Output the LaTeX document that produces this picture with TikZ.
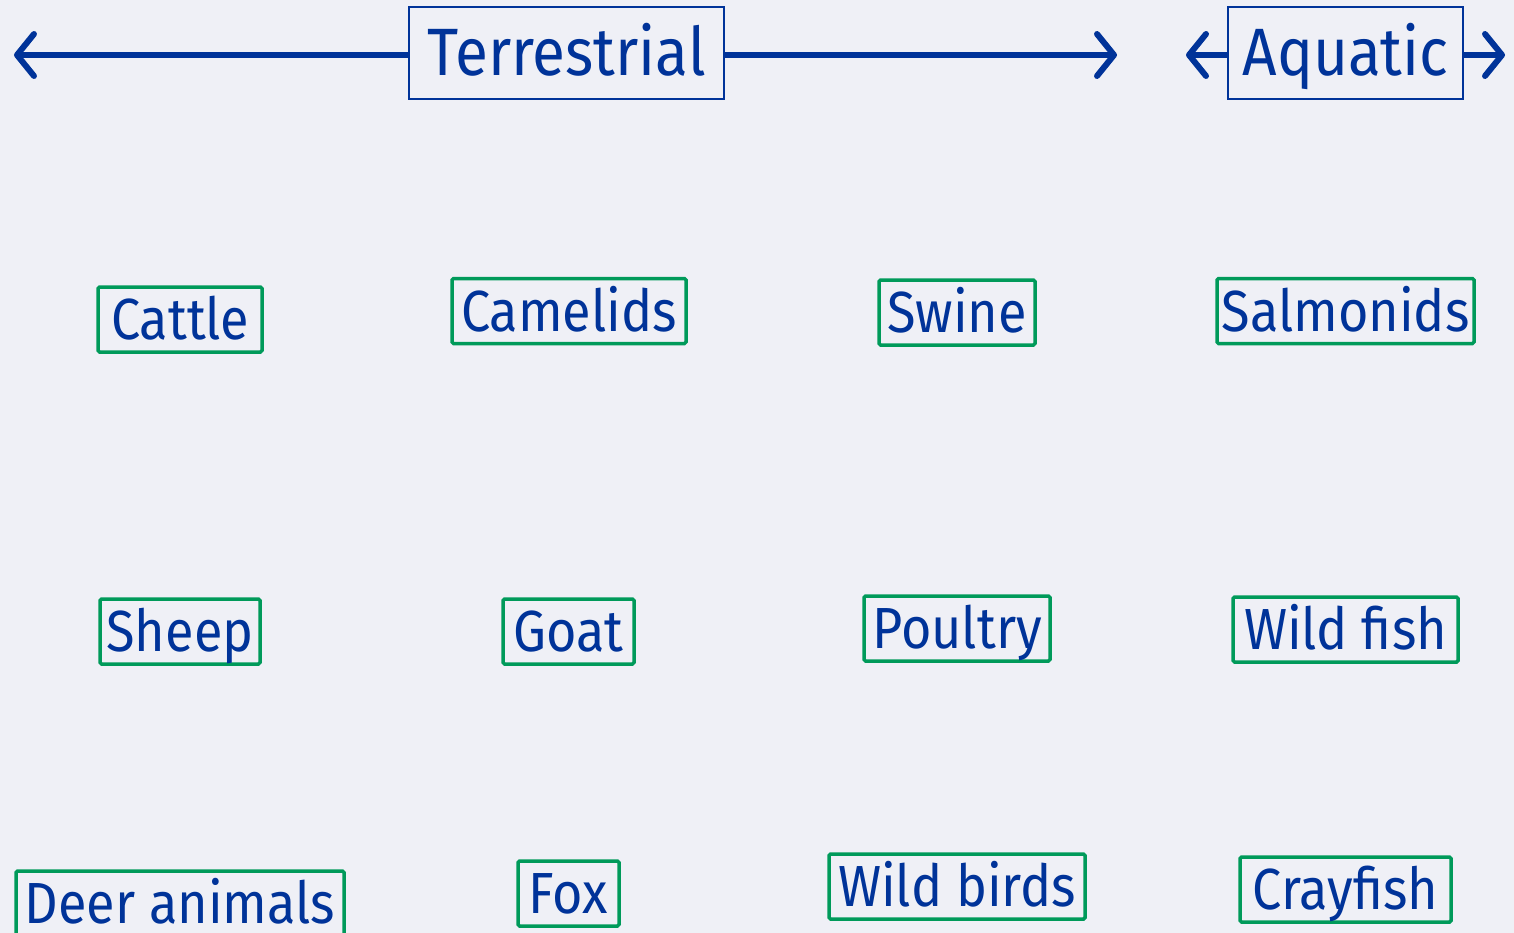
\documentclass[tikz,border=0pt]{standalone}
\usepackage{fontspec}
\setmainfont[FakeStretch=0.9]{Fira Sans}
\usetikzlibrary{arrows.meta}
\definecolor{bgcol}{RGB}{239,240,246}
\definecolor{navy}{RGB}{0,51,153}
\definecolor{leaf}{RGB}{0,154,90}
\tikzset{
  header/.style={draw=navy, line width=1.5pt, text=navy, font=\fontsize{67}{67}\selectfont,
    minimum height=92pt, text height=46pt, text depth=0pt, inner xsep=0pt, inner ysep=0pt},
  animal/.style={draw=leaf, line width=3.5pt, rounded corners=1.5pt, text=navy,
    font=\fontsize{58}{58}\selectfont, minimum height=65pt, text height=40pt,
    text depth=0pt, inner xsep=0pt, inner ysep=0pt},
  span/.style={draw=navy, line width=6pt,
    -{Straight Barb[length=17pt, width=42pt, line cap=round, line join=round]}}
}
\begin{document}
\begin{tikzpicture}[x=1pt, y=-1pt]
  \fill[bgcol] (0,0) rectangle (1514,933);
  \useasboundingbox (0,0) rectangle (1514,933);

  % habitat headers with their extent arrows
  \node[header, minimum width=315pt] (terr) at (566.5,53) {Terrestrial};
  \node[header, minimum width=235pt] (aqua) at (1345.5,53) {Aquatic};
  \coordinate (terrL) at (14,55);
  \coordinate (terrR) at (1117,55);
  \coordinate (aquaL) at (1186,55);
  \coordinate (aquaR) at (1505,55);
  \draw[span] (terr.west |- terrL) -- (terrL);
  \draw[span] (terr.east |- terrR) -- (terrR);
  \draw[span] (aqua.west |- aquaL) -- (aquaL);
  \draw[span] (aqua.east |- aquaR) -- (aquaR);

  % species, first row
  \node[animal, minimum width=164pt] (cattle)    at (180,319.5)   {Cattle};
  \node[animal, minimum width=234pt] (camelids)  at (569,311)     {Camelids};
  \node[animal, minimum width=156pt] (swine)     at (957,312.5)   {Swine};
  \node[animal, minimum width=257pt] (salmonids) at (1345.5,311)  {Salmonids};
  % second row
  \node[animal, minimum width=160pt] (sheep)     at (180,631.5)   {Sheep};
  \node[animal, minimum width=131pt] (goat)      at (568.5,631.5) {Goat};
  \node[animal, minimum width=186pt] (poultry)   at (957,628.5)   {Poultry};
  \node[animal, minimum width=225pt] (wildfish)  at (1345.5,629.5){Wild fish};
  % third row
  \node[animal, minimum width=328pt] (deer)      at (180,903.5)   {Deer animals};
  \node[animal, minimum width=101pt] (fox)       at (568.5,893.5) {Fox};
  \node[animal, minimum width=256pt] (wildbirds) at (957,886.5)   {Wild birds};
  \node[animal, minimum width=211pt] (crayfish)  at (1345.5,889.5){Crayfish};
\end{tikzpicture}
\end{document}
